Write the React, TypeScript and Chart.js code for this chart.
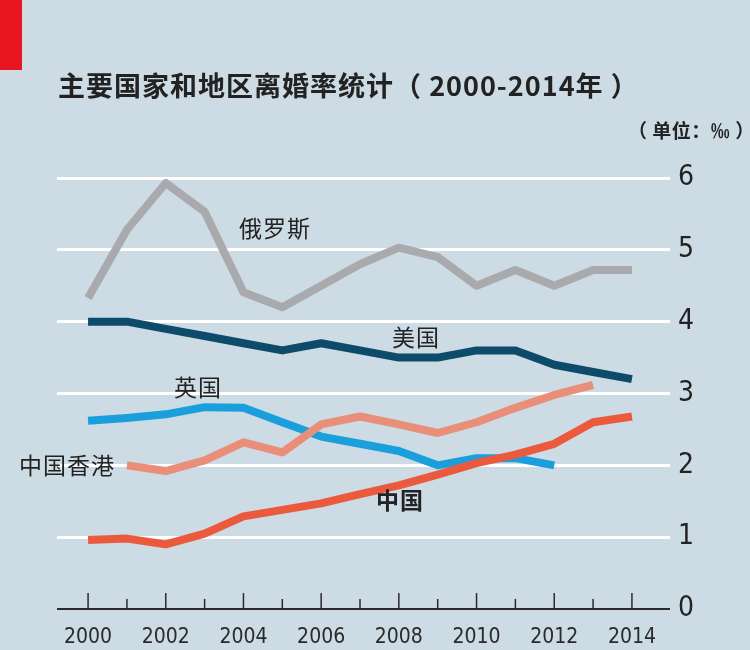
import React, { useEffect, useRef } from "react";
import { Chart, registerables } from "chart.js";

Chart.register(...registerables);

const years = [2000, 2001, 2002, 2003, 2004, 2005, 2006, 2007, 2008, 2009, 2010, 2011, 2012, 2013, 2014];
const russia = [4.33, 5.28, 5.93, 5.53, 4.41, 4.2, 4.5, 4.8, 5.03, 4.9, 4.5, 4.72, 4.5, 4.72, 4.72];
const usa = [4.0, 4.0, 3.9, 3.8, 3.7, 3.6, 3.7, 3.6, 3.5, 3.5, 3.6, 3.6, 3.4, 3.3, 3.2];
const uk = [2.62, 2.66, 2.71, 2.81, 2.8, 2.6, 2.4, 2.3, 2.2, 2.0, 2.1, 2.1, 2.0, null, null];
const hongKong = [null, 2.0, 1.92, 2.07, 2.32, 2.18, 2.57, 2.68, 2.57, 2.45, 2.6, 2.8, 2.98, 3.12, null];
const china = [0.96, 0.98, 0.9, 1.05, 1.29, 1.38, 1.47, 1.6, 1.72, 1.87, 2.03, 2.15, 2.3, 2.6, 2.68];
const yTicks = [0, 1, 2, 3, 4, 5, 6];
const xLabelYears = [2000, 2002, 2004, 2006, 2008, 2010, 2012, 2014];

const BG = "#cddbe4";
const FONT_NUM = "'Liberation Sans Narrow', 'DejaVu Sans Condensed', 'Noto Sans', sans-serif";
const FONT_CJK = "'Noto Sans CJK SC', 'Noto Sans', sans-serif";

const toPts = (arr: (number | null)[]) =>
  years.map((y, i) => ({ x: y, y: arr[i] })).filter((p) => p.y !== null);

const tickPlugin = {
  id: "yearTicks",
  afterDraw(chart: any) {
    const { ctx } = chart;
    const xs = chart.scales.x;
    const ys = chart.scales.y;
    const y0 = ys.getPixelForValue(0);
    ctx.save();
    ctx.strokeStyle = "#2a2a2a";
    ctx.lineWidth = 1.5;
    years.forEach((yr) => {
      const px = xs.getPixelForValue(yr);
      const len = yr % 2 === 0 ? 16 : 10;
      ctx.beginPath();
      ctx.moveTo(px, y0);
      ctx.lineTo(px, y0 - len);
      ctx.stroke();
    });
    ctx.restore();
  },
};

export default function App() {
  const ref = useRef<HTMLCanvasElement | null>(null);
  useEffect(() => {
    if (!ref.current) return;
    const lw = 8;
    const common = {
      borderWidth: lw,
      pointRadius: 0,
      fill: false,
      tension: 0,
      borderCapStyle: "butt" as const,
      borderJoinStyle: "round" as const,
      clip: false as any,
    };
    const chart = new Chart(ref.current, {
      type: "line",
      data: {
        datasets: [
          { ...common, label: "中国", data: toPts(china), borderColor: "#ec5a3e", order: 1 },
          { ...common, label: "中国香港", data: toPts(hongKong), borderColor: "#e98e78", order: 2 },
          { ...common, label: "英国", data: toPts(uk), borderColor: "#1a9fdc", order: 3 },
          { ...common, label: "美国", data: toPts(usa), borderColor: "#0e4a6a", order: 4 },
          { ...common, label: "俄罗斯", data: toPts(russia), borderColor: "#a9aaad", order: 5 },
        ] as any,
      },
      options: {
        animation: false,
        responsive: false,
        maintainAspectRatio: false,
        layout: { padding: { left: 57, top: 178, right: 0, bottom: 0 } },
        plugins: { legend: { display: false }, tooltip: { enabled: false } },
        scales: {
          x: {
            type: "linear",
            min: 1999.2,
            max: 2014.98,
            afterBuildTicks: (s: any) => {
              s.ticks = xLabelYears.map((v) => ({ value: v }));
            },
            afterFit: (s: any) => {
              s.height = 41;
            },
            ticks: {
              autoSkip: false,
              maxRotation: 0,
              padding: 8,
              color: "#2a2a2a",
              font: { family: FONT_NUM, size: 21 },
              callback: (v: any) => String(v),
            },
            grid: { display: false },
            border: { display: false },
          },
          y: {
            position: "right",
            min: 0,
            max: 6,
            afterBuildTicks: (s: any) => {
              s.ticks = yTicks.map((v) => ({ value: v }));
            },
            afterFit: (s: any) => {
              s.width = 80;
            },
            ticks: {
              padding: 8,
              color: "#222",
              font: { family: FONT_NUM, size: 28 },
            },
            grid: {
              drawTicks: false,
              color: (c: any) => (c.tick && c.tick.value === 0 ? "#2a2a2a" : "#ffffff"),
              lineWidth: (c: any) => (c.tick && c.tick.value === 0 ? 2 : 3),
            },
            border: { display: false },
          },
        },
      },
      plugins: [tickPlugin],
    });
    return () => chart.destroy();
  }, []);

  const lbl = (text: string, left: number, top: number, extra: any = {}) => (
    <div
      style={{
        position: "absolute",
        left,
        top,
        fontFamily: FONT_CJK,
        fontSize: 23,
        color: "#222",
        whiteSpace: "pre",
        lineHeight: 1,
        ...extra,
      }}
    >
      {text}
    </div>
  );

  return (
    <div style={{ position: "absolute", left: 0, top: 0, width: 750, height: 650, background: BG, overflow: "hidden" }}>
      <div style={{ position: "absolute", left: 0, top: 0, width: 22, height: 70, background: "#e8141e" }} />
      <canvas ref={ref} width={750} height={650} style={{ position: "absolute", left: 0, top: 0 }} />
      {lbl("主要国家和地区离婚率统计（ 2000-2014年 ）", 58, 71, { fontSize: 27, fontWeight: 700, letterSpacing: 1 })}
      {lbl("（ 单位：‰ ）", 628, 120, { fontSize: 19, fontWeight: 700, letterSpacing: 0.5 })}
      {lbl("俄罗斯", 239, 216, { letterSpacing: 1 })}
      {lbl("美国", 392, 325, { letterSpacing: 1 })}
      {lbl("英国", 174, 375, { letterSpacing: 1 })}
      {lbl("中国香港", 19, 453, { letterSpacing: 1 })}
      {lbl("中国", 376, 488, { fontWeight: 700, letterSpacing: 1 })}
    </div>
  );
}
